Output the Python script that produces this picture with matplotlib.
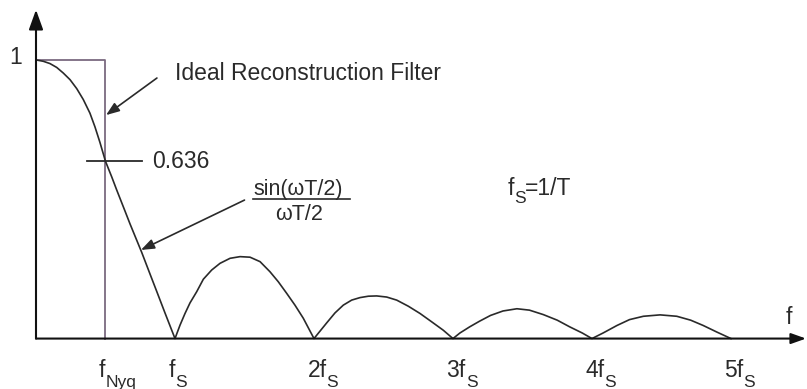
import matplotlib.pyplot as plt
from matplotlib.transforms import IdentityTransform

plt.rcParams['font.family'] = ['Liberation Sans', 'DejaVu Sans']

# frequency in units of fs, amplitude normalised to 1
main_f = [0, 0.053, 0.10, 0.149, 0.196, 0.245, 0.293, 0.34, 0.388, 0.424, 0.46, 0.50,
          0.545, 0.58, 0.64, 0.676, 0.76, 0.82, 0.868, 0.928, 1.0]
main_a = [1.0, 0.995, 0.987, 0.973, 0.953, 0.929, 0.897, 0.858, 0.809, 0.760, 0.704, 0.636,
          0.580, 0.534, 0.458, 0.412, 0.310, 0.232, 0.170, 0.092, 0.0]

lobe1_f = [1.0, 1.036, 1.072, 1.108, 1.156, 1.204, 1.264, 1.324, 1.396, 1.468, 1.54,
           1.612, 1.683, 1.743, 1.804, 1.863, 1.923, 2.0]
lobe1_a = [0.0, 0.048, 0.090, 0.128, 0.168, 0.213, 0.246, 0.270, 0.288, 0.294, 0.292,
           0.276, 0.240, 0.204, 0.162, 0.120, 0.073, 0.0]

lobe2_f = [2.0, 2.091, 2.151, 2.211, 2.271, 2.331, 2.391, 2.451, 2.523, 2.595, 2.679,
           2.763, 2.847, 2.930, 3.0]
lobe2_a = [0.0, 0.056, 0.092, 0.120, 0.138, 0.147, 0.152, 0.153, 0.149, 0.138, 0.116,
           0.090, 0.060, 0.030, 0.0]

lobe3_f = [3.0, 3.05, 3.12, 3.19, 3.27, 3.36, 3.46, 3.55, 3.65, 3.75, 3.84, 3.93, 4.0]
lobe3_a = [0.0, 0.020, 0.042, 0.062, 0.083, 0.099, 0.107, 0.102, 0.086, 0.066, 0.042, 0.020, 0.0]

lobe4_f = [4.0, 4.08, 4.18, 4.27, 4.37, 4.49, 4.61, 4.71, 4.80, 4.90, 5.0]
lobe4_a = [0.0, 0.020, 0.047, 0.068, 0.080, 0.085, 0.080, 0.066, 0.047, 0.023, 0.0]

filter_f = [0, 0.5, 0.5]
filter_a = [1.0, 1.0, 0.0]

nyq_value = 0.636
tick_pos = [0.5, 1, 2, 3, 4, 5]
tick_main = ['f', 'f', '2f', '3f', '4f', '5f']
tick_sub = ['Nyq', 'S', 'S', 'S', 'S', 'S']

W, H = 807, 389
fig = plt.figure(figsize=(W / 100, H / 100), dpi=100)
ax = fig.add_axes([0, 0, 1, 1])
ax.set_xlim(-0.259, 5.547)
ax.set_ylim(-0.181, 1.215)
ax.axis('off')
renderer = fig.canvas.get_renderer()

ink = '#2a2a2a'
fs = 16.5
sub_fs = 12.5


def put_text(x, y, parts, color=ink):
    # lay out (string, size, drop_px) pieces left to right on one baseline
    px, py = ax.transData.transform((x, y))
    for s, size, drop in parts:
        t = ax.text(px, py - drop, s, fontsize=size, ha='left', va='baseline',
                    color=color, transform=IdentityTransform())
        px += t.get_window_extent(renderer).width


# ideal filter box
ax.plot(filter_f, filter_a, color='#7b6a80', lw=1.3, zorder=2)

# sinc response
f_all = main_f + lobe1_f[1:] + lobe2_f[1:] + lobe3_f[1:] + lobe4_f[1:]
a_all = main_a + lobe1_a[1:] + lobe2_a[1:] + lobe3_a[1:] + lobe4_a[1:]
ax.plot(f_all, a_all, color=ink, lw=1.2, zorder=3, solid_joinstyle='round')

# axes with arrow heads
ax.annotate('', xy=(0, 1.18), xytext=(0, 0),
            arrowprops=dict(arrowstyle='-|>,head_length=1.0,head_width=0.36',
                            mutation_scale=12, lw=1.5, color='#111111',
                            shrinkA=0, shrinkB=0))
ax.annotate('', xy=(5.54, 0), xytext=(0, 0),
            arrowprops=dict(arrowstyle='-|>,head_length=0.9,head_width=0.32',
                            mutation_scale=10, lw=1.5, color='#111111',
                            shrinkA=0, shrinkB=0))

ax.text(-0.10, 1.01, '1', fontsize=fs, ha='right', va='center', color=ink)
ax.text(5.42, 0.074, 'f', fontsize=fs, ha='center', va='center', color=ink)

for p, m, s in zip(tick_pos, tick_main, tick_sub):
    put_text(p - 0.047, -0.138, [(m, fs, 0), (s, sub_fs, 10)])

# 0.636 marker
ax.plot([0.365, 0.76], [nyq_value, nyq_value], color=ink, lw=1.3, zorder=4)
ax.text(0.835, nyq_value, f'{nyq_value:.3f}', fontsize=fs, ha='left', va='center', color=ink)

# filter callout
ax.text(1.0, 0.953, 'Ideal Reconstruction Filter', fontsize=fs, ha='left', va='center', color=ink)
ax.annotate('', xy=(0.504, 0.802), xytext=(0.87, 0.935),
            arrowprops=dict(arrowstyle='-|>,head_length=0.8,head_width=0.3',
                            mutation_scale=10, lw=1.2, color=ink,
                            shrinkA=0, shrinkB=0))

# sinc callout
ax.text(1.89, 0.535, 'sin(ωT/2)', fontsize=15.5, ha='center', va='center', color=ink)
ax.plot([1.561, 2.259], [0.5, 0.5], color=ink, lw=1.2)
ax.text(1.89, 0.447, 'ωT/2', fontsize=15.5, ha='center', va='center', color=ink)
ax.annotate('', xy=(0.755, 0.318), xytext=(1.50, 0.497),
            arrowprops=dict(arrowstyle='-|>,head_length=0.8,head_width=0.3',
                            mutation_scale=10, lw=1.2, color=ink,
                            shrinkA=0, shrinkB=0))

put_text(3.39, 0.515, [('f', fs, 0), ('S', sub_fs, 8), ('=1/T', fs, 0)])

fig.savefig('out.png', dpi=100)
